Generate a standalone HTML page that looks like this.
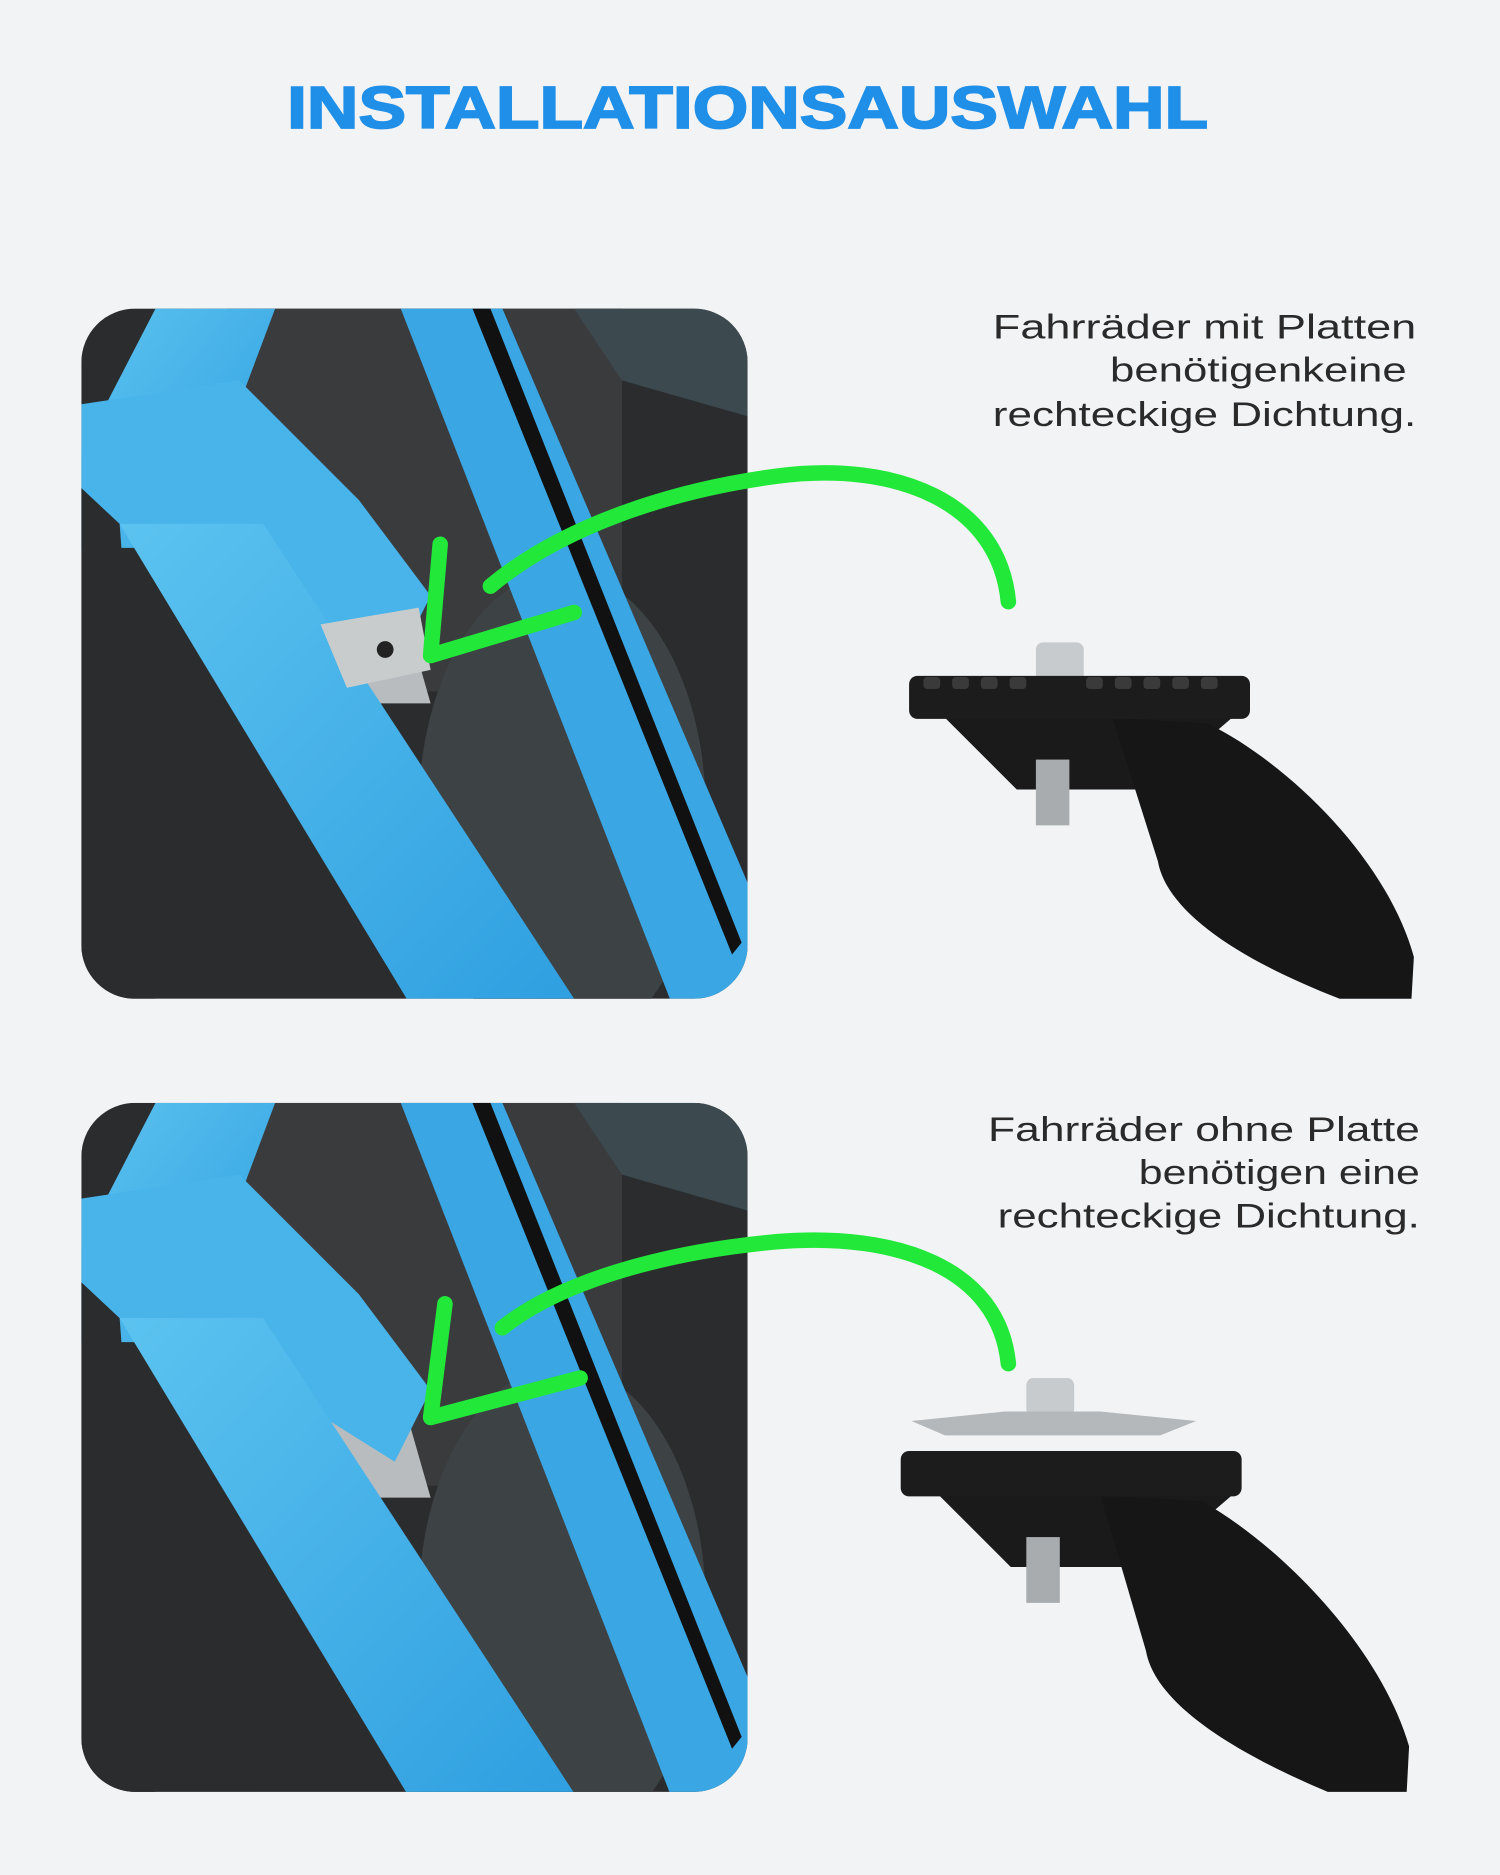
<!DOCTYPE html>
<html><head><meta charset="utf-8"><style>
html,body{margin:0;padding:0;background:#f1f3f5}
svg{display:block}
</style></head><body>
<svg width="1500" height="1875" viewBox="0 0 1254 1567.5" xmlns="http://www.w3.org/2000/svg">
<defs>
<clipPath id="c1"><rect x="68" y="258" width="557" height="577" rx="45"/></clipPath>
<clipPath id="c2"><rect x="68" y="922" width="557" height="576" rx="45"/></clipPath>
<linearGradient id="bl" x1="0" y1="0" x2="1" y2="1"><stop offset="0" stop-color="#5cc3f0"/><stop offset="1" stop-color="#2f9fe0"/></linearGradient>
<g id="panel">
<rect x="68" y="0" width="557" height="577" fill="#2b2c2e"/>
<rect x="190" y="0" width="330" height="320" fill="#3a3b3d"/>
<ellipse cx="470" cy="420" rx="120" ry="200" fill="#3d4244"/>
<polygon points="240,260 340,260 360,330 260,330" fill="#b9bcbe"/>
<polygon points="68,120 130,0 230,0 200,80 68,200" fill="url(#bl)"/>
<polygon points="68,80 200,60 300,160 360,240 330,300 250,250 190,200 100,200 68,200" fill="#48b4ea"/>
<polygon points="100,180 220,180 480,577 340,577" fill="url(#bl)"/>
<polygon points="68,150 100,180 130,577 68,577" fill="#2b2c2e"/>
<polygon points="335,0 420,0 625,480 625,577 560,577" fill="#3aa6e4"/>
<polygon points="395,0 410,0 620,530 612,540" fill="#111"/>
<polygon points="480,0 625,0 625,90 520,60" fill="#3c4a50"/>
</g>
</defs>
<rect width="1254" height="1567.5" fill="#f1f3f5"/>
<text x="240" y="107" textLength="770" lengthAdjust="spacingAndGlyphs" font-family="Liberation Sans, sans-serif" font-weight="bold" font-size="50" fill="#1f8fe8" stroke="#1f8fe8" stroke-width="1.5">INSTALLATIONSAUSWAHL</text>

<g clip-path="url(#c1)"><use href="#panel" y="258"/>
<polygon points="268,522 350,508 360,560 290,575" fill="#c9cccd"/><circle cx="322" cy="543" r="7" fill="#222"/></g>
<g clip-path="url(#c2)"><use href="#panel" y="922"/></g>

<g font-family="Liberation Sans, sans-serif" font-size="29" fill="#2a2a2a" lengthAdjust="spacingAndGlyphs">
<text x="830" y="283" textLength="354" lengthAdjust="spacingAndGlyphs">Fahrräder mit Platten</text>
<text x="928" y="319" textLength="248" lengthAdjust="spacingAndGlyphs">benötigenkeine</text>
<text x="830" y="356" textLength="354" lengthAdjust="spacingAndGlyphs">rechteckige Dichtung.</text>
<text x="826" y="954" textLength="361" lengthAdjust="spacingAndGlyphs">Fahrräder ohne Platte</text>
<text x="952" y="990" textLength="235" lengthAdjust="spacingAndGlyphs">benötigen eine</text>
<text x="834" y="1026" textLength="353" lengthAdjust="spacingAndGlyphs">rechteckige Dichtung.</text>
</g>

<g fill="none" stroke="#22e83a" stroke-width="13" stroke-linecap="round" stroke-linejoin="round">
<path d="M843,503 C835,420 750,385 650,398 C560,410 470,440 410,490"/>
<path d="M368,455 L360,548 L480,512"/>
<path d="M843,1140 C835,1060 750,1030 650,1038 C560,1046 470,1070 420,1110"/>
<path d="M372,1090 L360,1185 L485,1152"/>
</g>

<g>
<rect x="866" y="537" width="40" height="38" rx="6" fill="#c8cbcd"/>
<polygon points="790,600 1030,600 960,660 850,660" fill="#1a1a1a"/>
<path d="M930,600 L1010,605 C1080,640 1160,720 1182,800 L1180,835 L1120,835 C1030,800 975,760 968,720 Z" fill="#161616"/>
<rect x="866" y="635" width="28" height="55" fill="#a9acae"/>
<rect x="760" y="565" width="285" height="36" rx="7" fill="#1c1c1c"/>
<g fill="#3a3a3a"><rect x="772" y="566" width="14" height="10" rx="3"/><rect x="796" y="566" width="14" height="10" rx="3"/><rect x="820" y="566" width="14" height="10" rx="3"/><rect x="844" y="566" width="14" height="10" rx="3"/><rect x="908" y="566" width="14" height="10" rx="3"/><rect x="932" y="566" width="14" height="10" rx="3"/><rect x="956" y="566" width="14" height="10" rx="3"/><rect x="980" y="566" width="14" height="10" rx="3"/><rect x="1004" y="566" width="14" height="10" rx="3"/></g>
</g>
<g>
<rect x="858" y="1152" width="40" height="32" rx="6" fill="#c8cbcd"/>
<polygon points="762,1188 840,1180 920,1180 1000,1188 970,1200 790,1200" fill="#b5b8ba"/>
<polygon points="785,1250 1030,1250 960,1310 845,1310" fill="#1a1a1a"/>
<path d="M920,1250 L1005,1255 C1075,1295 1155,1380 1178,1460 L1176,1498 L1110,1498 C1020,1460 965,1420 958,1380 Z" fill="#161616"/>
<rect x="858" y="1285" width="28" height="55" fill="#a9acae"/>
<rect x="753" y="1213" width="285" height="38" rx="7" fill="#1c1c1c"/>
</g>
</svg>
</body></html>
